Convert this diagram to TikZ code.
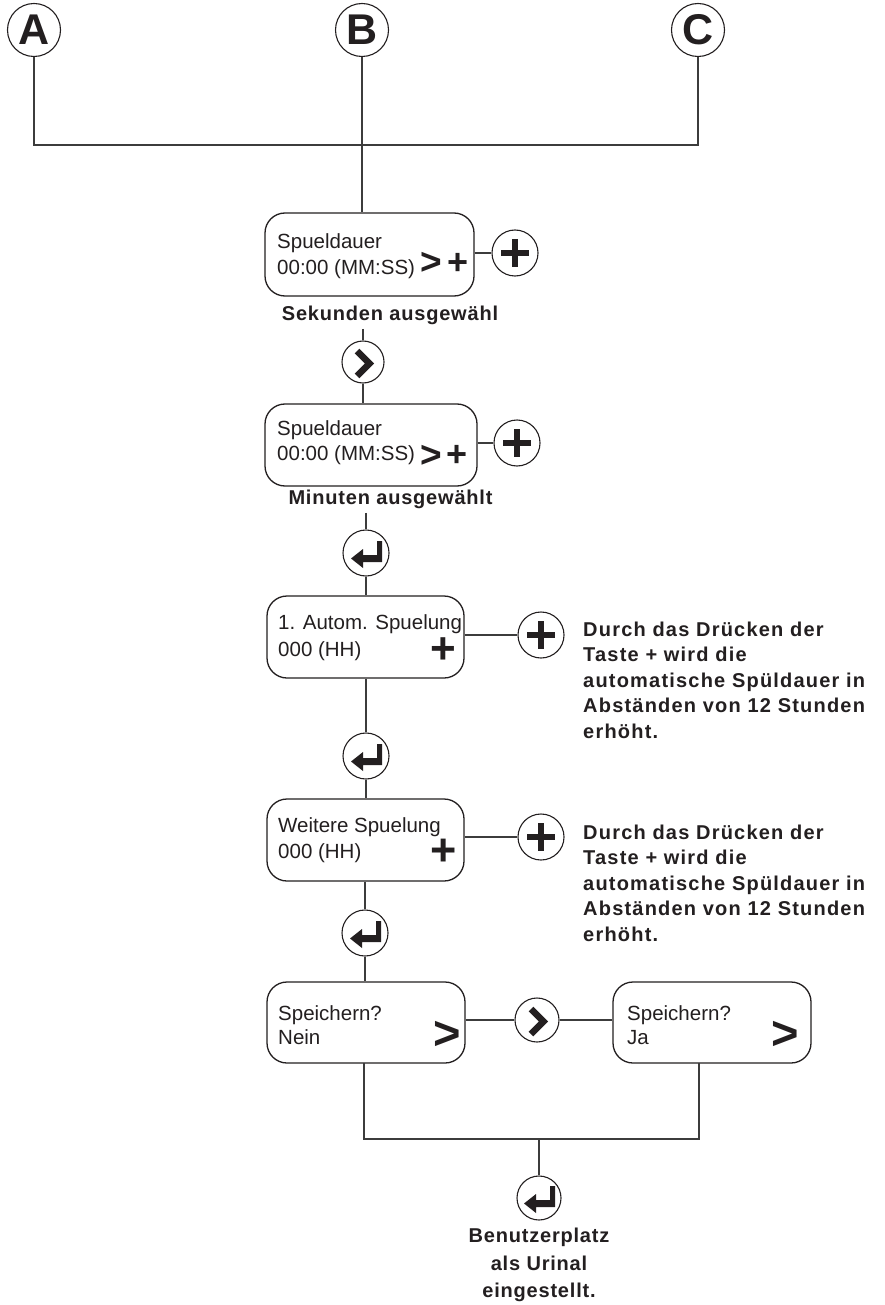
\documentclass[tikz,border=0pt]{standalone}
\usepackage{fontspec}
\setmainfont{Liberation Sans}
\newfontfamily\lblfont[LetterSpace=4.0]{Liberation Sans}
\newfontfamily\notefont[LetterSpace=6.0]{Liberation Sans}
\definecolor{ink}{HTML}{231F20}
\definecolor{wire}{HTML}{3C3C3C}
\begin{document}
\begin{tikzpicture}[x=1pt,y=-1pt,
  lbox/.style={draw=ink, line width=1.3pt, rounded corners=20pt, inner sep=0pt},
  btn/.style={circle, draw=ink, line width=1.1pt, minimum size=46pt, inner sep=0pt},
  letter/.style={circle, draw=ink, line width=1.1pt, minimum size=53pt, inner sep=0pt, text=ink,
    font=\fontsize{43}{43}\selectfont\bfseries},
  conn/.style={draw=wire, line width=1.2pt},
  boxtxt/.style={anchor=north west, inner sep=0pt, align=left, text=ink},
  note/.style={anchor=north west, inner sep=0pt, align=left, text=ink,
    font=\notefont\bfseries\fontsize{20}{25.5}\selectfont},
  lbl/.style={inner sep=0pt, outer sep=4pt, text=ink, font=\lblfont\bfseries\fontsize{20}{25}\selectfont},
  sym/.style={inner sep=0pt, text=ink},
  icon/.style={draw=ink, line width=6pt},
  chev/.style={draw=ink, line width=6.5pt, miter limit=10}
]
\path[fill=white, use as bounding box] (0,0) rectangle (885,1305);

% top letters
\node[letter] (A) at (34,30) {A};
\node[letter] (B) at (362,30) {B};
\node[letter] (C) at (698,30) {C};
\coordinate (hb) at (0,145);

% boxes
\node[lbox, minimum width=209pt, minimum height=83pt] (box1) at (369.5,254.5) {};
\node[lbox, minimum width=212pt, minimum height=82pt] (box2) at (371,445) {};
\node[lbox, minimum width=197pt, minimum height=82pt] (box3) at (365.5,637) {};
\node[lbox, minimum width=197pt, minimum height=82pt] (box4) at (365.5,840) {};
\node[lbox, minimum width=198pt, minimum height=81pt] (box5) at (366,1022.5) {};
\node[lbox, minimum width=198pt, minimum height=81pt] (box6) at (712,1022.5) {};

% box texts
\node[boxtxt, font=\fontsize{20.5}{26}\selectfont] (box1t) at (277,233) {Spueldauer\\00:00 (MM:SS)};
\node[boxtxt, font=\fontsize{20.5}{25}\selectfont] (box2t) at (277,420) {Spueldauer\\00:00 (MM:SS)};
\node[boxtxt, font=\fontsize{20.5}{27}\selectfont] (box3t) at (278,614) {1. Autom. Spuelung\\000 (HH)};
\node[boxtxt, font=\fontsize{20.5}{26}\selectfont] (box4t) at (278,817) {Weitere Spuelung\\000 (HH)};
\node[boxtxt, font=\fontsize{20.5}{24}\selectfont] (box5t) at (278,1005) {Speichern?\\Nein};
\node[boxtxt, font=\fontsize{20.5}{24}\selectfont] (box6t) at (627,1005) {Speichern?\\Ja};

% symbols inside boxes
\node[sym, font=\fontsize{37}{37}\selectfont\bfseries] (box1g) at (431,263) {>};
\node[sym, font=\fontsize{36}{36}\selectfont\bfseries] (box1p) at (458,264) {+};
\node[sym, font=\fontsize{37}{37}\selectfont\bfseries] (box2g) at (431,456) {>};
\node[sym, font=\fontsize{36}{36}\selectfont\bfseries] (box2p) at (457,456) {+};
\node[sym, font=\fontsize{44}{44}\selectfont\bfseries] (box3p) at (443.5,650.5) {+};
\node[sym, font=\fontsize{45}{45}\selectfont\bfseries] (box4p) at (443.5,852) {+};
\node[sym, font=\fontsize{47}{47}\selectfont\bfseries] (box5g) at (447,1035) {>};
\node[sym, font=\fontsize{47}{47}\selectfont\bfseries] (box6g) at (785,1035) {>};

% buttons
\node[btn] (plus1) at (515,253) {};
\node[btn] (plus2) at (517,443) {};
\node[btn] (plus3) at (541,635) {};
\node[btn] (plus4) at (541,837) {};
\node[btn, minimum size=42pt] (next1) at (363,362) {};
\node[btn, minimum size=44pt] (next2) at (537,1020) {};
\node[btn] (enter1) at (366,553) {};
\node[btn] (enter2) at (366,756) {};
\node[btn] (enter3) at (365,933) {};
\node[btn, minimum size=44pt] (enter4) at (539,1198) {};

% icons
\foreach \p in {plus1,plus2,plus3,plus4}{
  \draw[icon, shift={(\p)}] (-14,0) -- (14,0) (0,-14) -- (0,14);
}
\foreach \n in {next1,next2}{
  \draw[chev, shift={(\n)}] (-6,-11) -- (6.5,1.5) -- (-6,14);
}
\foreach \e in {enter1,enter2,enter3,enter4}{
  \fill[ink, shift={(\e)}] (16,-12) -- (16,9) -- (-3,9) -- (-3,15) -- (-15,5.5)
     -- (-3,-4) -- (-3,2) -- (11,2) -- (11,-12) -- cycle;
}

% labels
\node[lbl] (lbl1) at (390,315.5) {Sekunden ausgewähl};
\node[lbl] (lbl2) at (390.5,499.5) {Minuten ausgewählt};
\node[note] (note1) at (583,621.5) {Durch das Drücken der\\Taste + wird die\\automatische Spüldauer in\\Abständen von 12 Stunden\\erhöht.};
\node[note] (note2) at (583,824.5) {Durch das Drücken der\\Taste + wird die\\automatische Spüldauer in\\Abständen von 12 Stunden\\erhöht.};
\node[lbl, align=center, font=\lblfont\bfseries\fontsize{20}{27.5}\selectfont, anchor=north] (lbl3) at (539,1224) {Benutzerplatz\\als Urinal\\eingestellt.};

% connectors
\draw[conn] (A.south) -- (A.south |- hb) -- (C.south |- hb) -- (C.south);
\draw[conn] (B.south) -- (B.south |- box1.north);
\draw[conn] (plus1.west -| box1.east) -- (plus1.west);
\draw[conn] (next1.north |- lbl1.south) -- (next1.north);
\draw[conn] (next1.south) -- (next1.south |- box2.north);
\draw[conn] (plus2.west -| box2.east) -- (plus2.west);
\draw[conn] (enter1.north |- lbl2.south) -- (enter1.north);
\draw[conn] (enter1.south) -- (enter1.south |- box3.north);
\draw[conn] (plus3.west -| box3.east) -- (plus3.west);
\draw[conn] (enter2.north |- box3.south) -- (enter2.north);
\draw[conn] (enter2.south) -- (enter2.south |- box4.north);
\draw[conn] (plus4.west -| box4.east) -- (plus4.west);
\draw[conn] (enter3.north |- box4.south) -- (enter3.north);
\draw[conn] (enter3.south) -- (enter3.south |- box5.north);
\draw[conn] (next2.west -| box5.east) -- (next2.west);
\draw[conn] (next2.east) -- (next2.east -| box6.west);
\coordinate (mrg) at (539,1139);
\coordinate (b6b) at (699,1063);
\coordinate (b5b) at (364,1063);
\draw[conn] (b5b) |- (mrg) -| (b6b);
\draw[conn] (mrg) -- (enter4.north);
\end{tikzpicture}
\end{document}
